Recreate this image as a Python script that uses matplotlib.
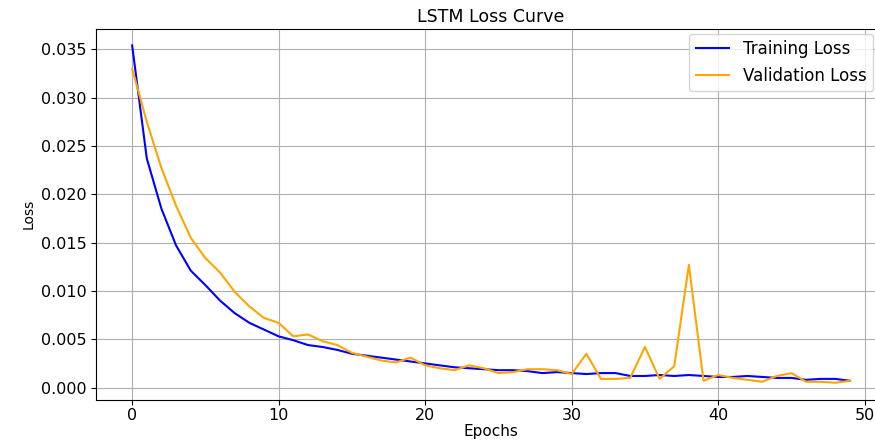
import matplotlib
matplotlib.use('Agg')
import matplotlib.pyplot as plt

# Per-epoch loss values for the LSTM run
epochs = list(range(50))
train_loss = [0.0354, 0.0237, 0.0185, 0.0147, 0.0121, 0.0106, 0.0090, 0.0077, 0.0067, 0.0060,
              0.0053, 0.0049, 0.0044, 0.0042, 0.0039, 0.0035, 0.0033, 0.0031, 0.0029, 0.0027,
              0.0025, 0.0023, 0.0021, 0.0020, 0.0019, 0.0018, 0.0018, 0.0017, 0.0015, 0.0016,
              0.0015, 0.0014, 0.0015, 0.0015, 0.0012, 0.0012, 0.0013, 0.0012, 0.0013, 0.0012,
              0.0011, 0.0011, 0.0012, 0.0011, 0.0010, 0.0010, 0.0008, 0.0009, 0.0009, 0.0007]
val_loss = [0.0330, 0.0275, 0.0227, 0.0188, 0.0155, 0.0134, 0.0119, 0.0099, 0.0084, 0.0072,
            0.0067, 0.0053, 0.0055, 0.0048, 0.0044, 0.0036, 0.0032, 0.0028, 0.0026, 0.0031,
            0.0023, 0.0020, 0.0018, 0.0023, 0.0020, 0.0015, 0.0016, 0.0019, 0.0019, 0.0018,
            0.0014, 0.0035, 0.0009, 0.0009, 0.0010, 0.0042, 0.0009, 0.0022, 0.0127, 0.0007,
            0.0013, 0.0010, 0.0008, 0.0006, 0.0012, 0.0015, 0.0006, 0.0006, 0.0005, 0.0007]

fig = plt.figure(figsize=(8.75, 4.46), dpi=100)
ax = fig.add_axes([0.110, 0.104, 0.9025, 0.832])

ax.plot(epochs, train_loss, color='blue', label='Training Loss')
ax.plot(epochs, val_loss, color='orange', label='Validation Loss')

ax.set_title('LSTM Loss Curve', fontsize=12.5, pad=5)
ax.set_xlabel('Epochs', fontsize=11, labelpad=1)
ax.set_ylabel('Loss', fontsize=10)
ax.tick_params(labelsize=11.5)
ax.tick_params(axis='x', pad=2.5)
ax.grid(True)
ax.legend(loc='upper right', bbox_to_anchor=(0.990, 1.0), fontsize=12,
          borderaxespad=0.3)

fig.savefig('out.png', dpi=100)
